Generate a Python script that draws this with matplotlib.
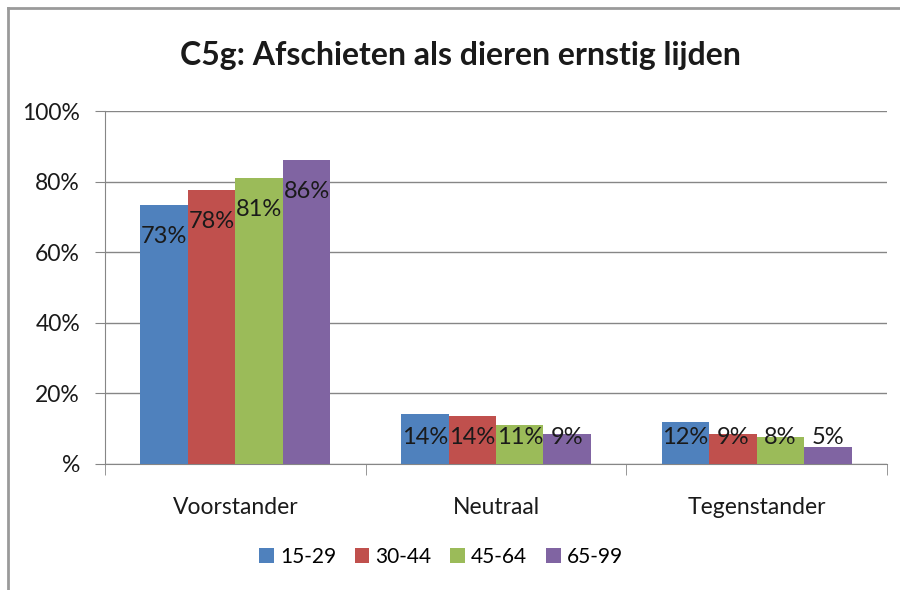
import matplotlib
matplotlib.use("Agg")
from matplotlib import pyplot as plt
from matplotlib.lines import Line2D
import numpy as np

# Gegevens
categories = ['Voorstander', 'Neutraal', 'Tegenstander']
age_groups = ['15-29', '30-44', '45-64', '65-99']
values_1529 = [73.4, 14.1, 11.8]
values_3044 = [77.6, 13.6, 8.6]
values_4564 = [81.0, 11.1, 7.6]
values_6599 = [86.1, 8.6, 4.8]
colors = ['#4F81BD', '#C0504D', '#9BBB59', '#8064A2']
ytick_values = [0, 20, 40, 60, 80, 100]
ytick_labels = ['%', '20%', '40%', '60%', '80%', '100%']

plt.rcParams['font.family'] = ['Lato', 'DejaVu Sans']

fig = plt.figure(figsize=(9, 5.9), dpi=100)
ax = fig.add_axes([0.1167, 0.2136, 0.8689, 0.598])

series = [values_1529, values_3044, values_4564, values_6599]
x = np.arange(len(categories))
width = 0.182
for i, vals in enumerate(series):
    pos = x + (i - 1.5) * width
    ax.bar(pos, vals, width=width, color=colors[i], label=age_groups[i],
           zorder=3)
    # labels staan iets onder de bovenkant van de balk
    for p, v in zip(pos, vals):
        ax.text(p, max(v - 9, 7.4), '%d%%' % round(v), ha='center',
                va='center', fontsize=17, color='#1a1a1a', zorder=4)

ax.set_xlim(-0.5, 2.5)
ax.set_ylim(0, 100)
ax.set_yticks(ytick_values)
ax.set_yticklabels(ytick_labels)
ax.set_xticks(x)
ax.set_xticklabels(categories)
ax.set_xticks([-0.5, 0.5, 1.5, 2.5], minor=True)
ax.tick_params(axis='x', which='major', length=0, pad=24, labelsize=16.5,
               labelcolor='#1a1a1a')
ax.tick_params(axis='x', which='minor', length=8, color='#868686')
ax.tick_params(axis='y', length=7, pad=11, labelsize=16.5, color='#868686',
               labelcolor='#1a1a1a')
ax.yaxis.grid(True, color='#868686', linewidth=1, zorder=0)
for side in ['top', 'right']:
    ax.spines[side].set_visible(False)
ax.spines['left'].set_color('#868686')
ax.spines['bottom'].set_color('#868686')

fig.text(0.512, 0.906, 'C5g: Afschieten als dieren ernstig lijden',
         ha='center', va='center', fontsize=23, fontweight='bold',
         color='#1a1a1a')

fig.legend(loc='center', bbox_to_anchor=(0.49, 0.056), ncol=4,
           frameon=False, fontsize=15, handlelength=0.7, handleheight=0.75,
           handletextpad=0.3, columnspacing=0.9)

# rand van de grafiek (links en boven)
fig.add_artist(Line2D([0.009, 0.009], [0, 0.986], color='#9a9a9a', lw=2))
fig.add_artist(Line2D([0.009, 1], [0.986, 0.986], color='#9a9a9a', lw=2))

fig.savefig('out.png', dpi=100)
